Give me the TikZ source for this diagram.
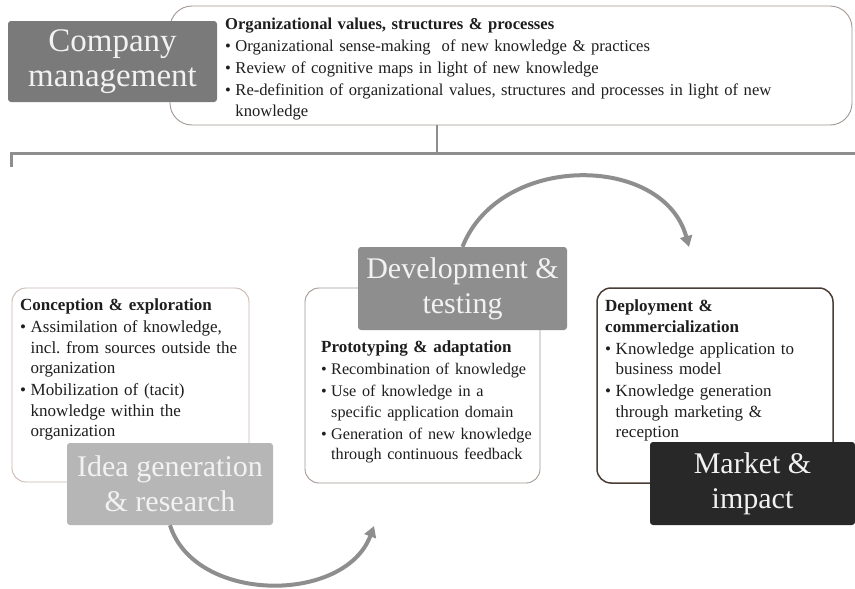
\documentclass[tikz,border=0pt]{standalone}
\usepackage{fontspec}
\setmainfont{Liberation Serif}
\usetikzlibrary{arrows.meta}
\definecolor{cmgray}{HTML}{7A7A7A}
\definecolor{devgray}{HTML}{8E8E8E}
\definecolor{ideagray}{HTML}{B6B6B6}
\definecolor{mkt}{HTML}{282828}
\definecolor{lineg}{HTML}{8E8E8E}
\definecolor{outl}{HTML}{A39892}
\definecolor{outlight}{HTML}{C9B8B0}
\definecolor{outdark}{HTML}{4A3C36}
\definecolor{txt}{HTML}{1E1E1E}
\frenchspacing
\newcommand\bpt[1]{\par\vspace{1.5pt}\hangindent=0.62em\hangafter=1\noindent\makebox[0.62em][l]{\textbullet}#1\par}
\newcommand\hd[1]{\noindent\textbf{#1}}
\begin{document}
\begin{tikzpicture}[x=1pt,y=-1pt,
  phase/.style={rectangle, rounded corners=3pt, inner sep=0pt, align=center, text=white!95!black, font=\fontsize{30}{35}\selectfont},
  panel/.style={rectangle, rounded corners=14pt, draw=outl, line width=0.9pt, inner sep=0pt, fill=white},
  blurb/.style={anchor=north west, inner sep=0pt, align=left, text=txt, font=\fontsize{17}{20.5}\selectfont},
  cyclearrow/.style={draw=lineg, line width=4pt, -{Triangle[length=11pt,width=12pt]}},
  bus/.style={draw=lineg, line width=3pt},
  stem/.style={draw=lineg, line width=1.8pt}]
\useasboundingbox (0,0) rectangle (855,589);
\fill[white] (0,0) rectangle (855,589);

% top box
\node[panel, rounded corners=22pt, minimum width=682pt, minimum height=119pt] (top) at (511,65.5) {};
\node[phase, fill=cmgray, font=\fontsize{33}{35}\selectfont, minimum width=209pt, minimum height=81pt] (cm) at (112.5,61.5) {Company\\management};
\node[blurb, text width=620pt, font=\fontsize{16.6}{20.5}\selectfont] (toptext) at (225,18) {%
\hd{Organizational values, structures \& processes}
\bpt{Organizational sense-making\ \ of new knowledge \& practices}
\bpt{Review of cognitive maps in light of new knowledge}
\bpt{Re-definition of organizational values, structures and processes in light of new\newline knowledge}};

% bus
\coordinate (join) at (437,153);
\coordinate (busL) at (11,153);
\coordinate (busR) at (855,153);
\coordinate (tick) at (11,167);
\draw[stem] (join |- top.south) -- (join);
\draw[bus] (tick) -- (busL) -- (busR);

% panels
\node[panel, draw=outlight, minimum width=237pt, minimum height=194pt] (lp) at (130.5,385) {};
\node[panel, minimum width=235pt, minimum height=195pt] (mp) at (422.5,385.5) {};
\node[panel, draw=outdark, line width=1.5pt, minimum width=236pt, minimum height=195pt] (rp) at (715,385.5) {};

\node[blurb, text width=230pt] (ltext) at (20,299) {%
\hd{Conception \& exploration}
\bpt{Assimilation of knowledge,\newline incl. from sources outside the\newline organization}
\bpt{Mobilization of (tacit)\newline knowledge within the\newline organization}};

\node[blurb, text width=230pt] (mtext) at (321,341) {%
\hd{Prototyping \& adaptation}
{\fontsize{16.2}{20.5}\selectfont
\bpt{Recombination of knowledge}
\bpt{Use of knowledge in a\newline specific application domain}
\bpt{Generation of new knowledge\newline through continuous feedback}}};

\node[blurb, text width=230pt] (rtext) at (605,300) {%
\hd{Deployment \&}\newline\hd{commercialization}
\bpt{Knowledge application to\newline business model}
\bpt{Knowledge generation\newline through marketing \&\newline reception}};

% phase boxes
\node[phase, fill=ideagray, minimum width=206pt, minimum height=82pt] (idea) at (170,484) {Idea generation\\\& research};
\node[phase, fill=devgray, minimum width=209pt, minimum height=83pt] (dev) at (462.5,288.5) {Development \&\\testing};
\node[phase, fill=mkt, minimum width=205pt, minimum height=83pt] (mkt) at (752.5,483.5) {Market \&\\impact};

% cycle arrows
\coordinate (arcA) at (689,247);
\coordinate (arcB) at (374,526);
\draw[cyclearrow] (dev.north) .. controls (500,152) and (664,154) .. (arcA);
\draw[cyclearrow] (idea.south) .. controls (195,604) and (345,604) .. (arcB);
\end{tikzpicture}
\end{document}
